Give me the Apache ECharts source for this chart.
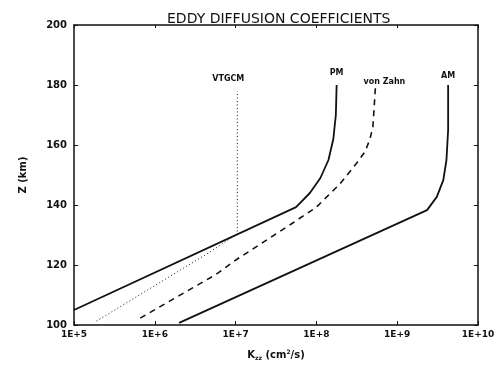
<!DOCTYPE html>
<html>
<head>
<meta charset="utf-8">
<script src="https://cdn.jsdelivr.net/npm/echarts@6/dist/echarts.min.js"></script>
<style>
  html, body { margin: 0; padding: 0; background: #fff; }
  #chart { width: 502px; height: 369px; }
</style>
</head>
<body>
<div id="chart"></div>
<script>
// ---- data (K in cm^2/s, altitude in km) ----
const titleText = 'EDDY DIFFUSION COEFFICIENTS';
const xTickLabels = ['1E+5', '1E+6', '1E+7', '1E+8', '1E+9', '1E+10'];
const yTickLabels = ['100', '120', '140', '160', '180', '200'];

const seriesNames = ['PM', 'AM', 'von Zahn', 'VTGCM'];

const kPM   = [1.0e5, 5.6e7, 8.3e7, 1.12e8, 1.41e8, 1.62e8, 1.74e8, 1.78e8];
const altPM = [105,   139.3, 144,   149,    155,    162,    170,    180];

const kAM   = [2.0e6, 2.34e9, 3.09e9, 3.72e9, 4.07e9, 4.27e9, 4.27e9];
const altAM = [100.7, 138.3,  142.7,  148.3,  155,    165,    180];

const kVZ   = [6.6e5, 5.6e6, 1.05e7, 5.1e7, 1.0e8, 1.95e8, 2.4e8, 3.16e8, 3.98e8, 4.57e8, 5.0e8, 5.37e8];
const altVZ = [102.3, 116.7, 122,    134,   139.3, 147,    150,   154,    157.7,  161.7,  166,   179];

const kVT   = [1.9e5, 4.8e6, 1.05e7, 1.05e7];
const altVT = [101.3, 124.3, 130.4,  178];

// ---- chart ----
const FONT = 'DejaVu Sans';
function pairs(k, alt, labelText, labelOpt) {
  return k.map((v, i) => {
    if (i === k.length - 1) {
      return {
        value: [v, alt[i]],
        label: Object.assign({
          show: true, formatter: labelText, fontFamily: FONT,
          fontSize: 8, fontWeight: 'bold', color: '#111'
        }, labelOpt)
      };
    }
    return [v, alt[i]];
  });
}
function lineSeries(name, data, type, width) {
  return {
    name, type: 'line', data,
    symbol: 'circle', symbolSize: 0, showSymbol: true,
    lineStyle: { color: '#111', width, type },
    itemStyle: { color: '#111' },
    label: { show: false },
    emphasis: { disabled: true },
    animation: false, z: 3
  };
}
const logTickIndex = v => Math.round(Math.log10(v)) - 5;

const chart = echarts.init(document.getElementById('chart'), null, { renderer: 'canvas' });
chart.setOption({
  backgroundColor: '#fff',
  animation: false,
  title: {
    text: titleText, left: 162, top: 7,
    textStyle: { fontFamily: FONT, fontSize: 14, fontWeight: 'normal', color: '#111' }
  },
  grid: { left: 74, right: 24, top: 25, bottom: 44 },
  xAxis: [{
    type: 'log', logBase: 10, min: 1e5, max: 1e10,
    name: '{k|K}{sub|zz} (cm{sup|2}/s)', nameLocation: 'middle', nameGap: 24,
    nameTextStyle: {
      fontFamily: FONT, fontSize: 10, fontWeight: 'bold', color: '#111',
      rich: {
        k: { fontFamily: FONT, fontSize: 10, fontWeight: 'bold', color: '#111' },
        sub: { fontFamily: FONT, fontSize: 6, fontWeight: 'bold', color: '#111', verticalAlign: 'bottom', padding: [6, 0, 0, 0] },
        sup: { fontFamily: FONT, fontSize: 6, fontWeight: 'bold', color: '#111', verticalAlign: 'top', padding: [0, 0, 6, 0] }
      }
    },
    axisLine: { show: true, lineStyle: { color: '#111', width: 1.5 } },
    axisTick: { show: true, inside: true, length: 4, lineStyle: { color: '#111' } },
    minorTick: { show: false },
    splitLine: { show: false },
    axisLabel: {
      fontFamily: FONT, fontSize: 9, fontWeight: 'bold', color: '#111', margin: 5,
      formatter: v => xTickLabels[logTickIndex(v)]
    }
  }, {
    type: 'log', logBase: 10, min: 1e5, max: 1e10, position: 'top',
    axisLine: { show: true, lineStyle: { color: '#111', width: 1.5 } },
    axisTick: { show: true, inside: true, length: 3, lineStyle: { color: '#111' } },
    axisLabel: { show: false }, splitLine: { show: false }
  }],
  yAxis: [{
    type: 'value', min: 100, max: 200, interval: 20,
    name: 'Z (km)', nameLocation: 'middle', nameGap: 46, nameRotate: 90,
    nameTextStyle: { fontFamily: FONT, fontSize: 10, fontWeight: 'bold', color: '#111' },
    axisLine: { show: true, lineStyle: { color: '#111', width: 1.5 } },
    axisTick: { show: true, inside: true, length: 4, lineStyle: { color: '#111' } },
    splitLine: { show: false },
    axisLabel: {
      fontFamily: FONT, fontSize: 10, fontWeight: 'bold', color: '#111', margin: 7,
      formatter: (v) => yTickLabels[Math.round((v - 100) / 20)]
    }
  }, {
    type: 'value', min: 100, max: 200, interval: 20, position: 'right',
    axisLine: { show: true, lineStyle: { color: '#111', width: 1.5 } },
    axisTick: { show: true, inside: true, length: 4, lineStyle: { color: '#111' } },
    axisLabel: { show: false }, splitLine: { show: false }
  }],
  series: [
    lineSeries(seriesNames[0], pairs(kPM, altPM, 'PM', { position: 'top', distance: 8 }), 'solid', 1.8),
    lineSeries(seriesNames[1], pairs(kAM, altAM, 'AM', { position: 'top', distance: 5 }), 'solid', 1.8),
    lineSeries(seriesNames[2], pairs(kVZ, altVZ, 'von Zahn', { position: 'top', distance: 2, offset: [9, 0] }), [6, 5], 1.6),
    lineSeries(seriesNames[3], pairs(kVT, altVT, 'VTGCM', { position: 'top', distance: 8, offset: [-9, 0] }), [1, 2.5], 1)
  ]
});
</script>
</body>
</html>
